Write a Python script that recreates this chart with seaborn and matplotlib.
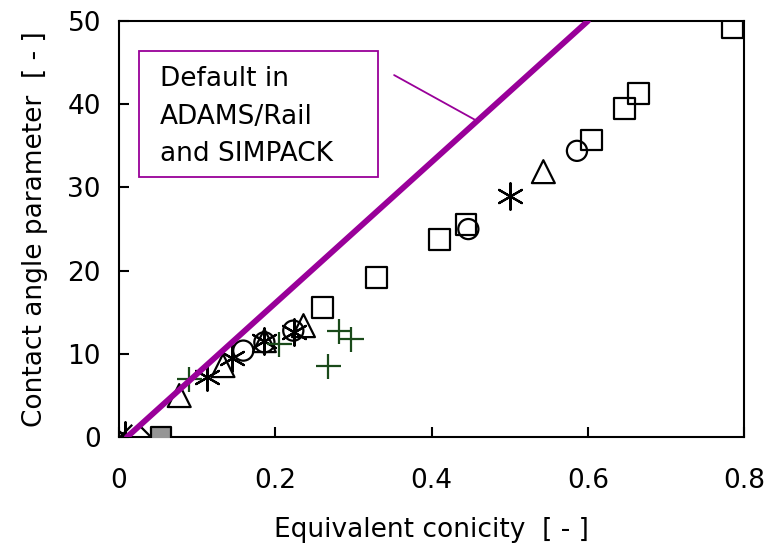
import matplotlib
matplotlib.use("Agg")
import matplotlib.pyplot as plt
from matplotlib.patches import Rectangle
import seaborn as sns
import pandas as pd

sns.set_theme(style="white")
plt.rcParams['font.family'] = ['DejaVu Sans']
plt.rcParams['text.color'] = 'black'
plt.rcParams['axes.labelcolor'] = 'black'
plt.rcParams['xtick.color'] = 'black'
plt.rcParams['ytick.color'] = 'black'

# ---- data ----
sq_x = [0.785, 0.665, 0.647, 0.605, 0.444, 0.410, 0.330, 0.260]
sq_y = [49.2, 41.3, 39.5, 35.7, 25.6, 23.7, 19.2, 15.6]
circ_x = [0.586, 0.447, 0.223, 0.186, 0.159]
circ_y = [34.4, 25.0, 12.8, 11.4, 10.4]
tri_x = [0.543, 0.236, 0.186, 0.133, 0.077]
tri_y = [31.9, 13.4, 11.6, 8.6, 5.0]
ast_x = [0.500, 0.224, 0.186, 0.145, 0.113, 0.008]
ast_y = [29.0, 12.6, 11.6, 9.5, 7.2, 0.3]
plus_x = [0.281, 0.297, 0.267, 0.205, 0.090]
plus_y = [12.7, 11.8, 8.6, 11.2, 7.0]
xmark_x = [0.004]
xmark_y = [0.4]
dia_x = [0.026]
dia_y = [0.0]
gray_x = [0.054]
gray_y = [0.0]
line_x = [0.01, 0.60]
line_y = [0.0, 50.0]

xticks = [0, 0.2, 0.4, 0.6, 0.8]
xticklabels = ["0", "0.2", "0.4", "0.6", "0.8"]
yticks = [0, 10, 20, 30, 40, 50]
yticklabels = ["0", "10", "20", "30", "40", "50"]

purple = "#990099"
green = "#1a4a1a"
FS = 19

fig = plt.figure(figsize=(7.68, 5.52), dpi=100)
ax = fig.add_axes([0.155, 0.208, 0.814, 0.754])

ew = 1.6
def df(x, y):
    return pd.DataFrame({"x": x, "y": y})

sns.scatterplot(data=df(sq_x, sq_y), x="x", y="y", marker="s", s=15**2,
                facecolors="none", edgecolor="black", linewidth=ew, ax=ax, zorder=3)
sns.scatterplot(data=df(circ_x, circ_y), x="x", y="y", marker="o", s=14.5**2,
                facecolors="none", edgecolor="black", linewidth=ew, ax=ax, zorder=3)
sns.scatterplot(data=df(tri_x, tri_y), x="x", y="y", marker="^", s=16.5**2,
                facecolors="none", edgecolor="black", linewidth=ew, ax=ax, zorder=3)
sns.scatterplot(data=df(ast_x, ast_y), x="x", y="y", marker=(6, 2, 0), s=19**2,
                color="black", linewidth=ew, ax=ax, zorder=3)
sns.scatterplot(data=df(plus_x, plus_y), x="x", y="y", marker="+", s=18**2,
                color=green, linewidth=ew, ax=ax, zorder=3)
sns.scatterplot(data=df(xmark_x, xmark_y), x="x", y="y", marker="x", s=14**2,
                color="black", linewidth=ew, ax=ax, zorder=3)
sns.scatterplot(data=df(dia_x, dia_y), x="x", y="y", marker="D", s=12**2,
                facecolors="none", edgecolor="black", linewidth=ew, ax=ax, zorder=3)
sns.scatterplot(data=df(gray_x, gray_y), x="x", y="y", marker="s", s=15**2,
                color="#969696", edgecolor="black", linewidth=ew, ax=ax, zorder=4)

sns.lineplot(data=df(line_x, line_y), x="x", y="y", color=purple, linewidth=4.2,
             ax=ax, zorder=5)

# annotation box + connector
ax.add_patch(Rectangle((0.0256, 31.2), 0.3064, 15.2, transform=ax.transData,
                       fc="white", ec=purple, lw=1.3, zorder=6))
ax.text(0.0526, 44.6, "Default in\nADAMS/Rail\nand SIMPACK", ha="left", va="top",
        fontsize=FS, linespacing=1.58, zorder=7)
ax.annotate("", xy=(0.458, 38.0), xycoords="data", xytext=(0.352, 43.5),
            textcoords="data",
            arrowprops=dict(arrowstyle="-", color=purple, lw=1.3,
                            shrinkA=0, shrinkB=0), zorder=6)

ax.set_xlim(0, 0.8)
ax.set_ylim(0, 50)
ax.set_xticks(xticks)
ax.set_xticklabels(xticklabels)
ax.set_yticks(yticks)
ax.set_yticklabels(yticklabels)
ax.tick_params(axis="both", direction="in", length=7, width=1.5, labelsize=FS,
               colors="black", bottom=True, left=True, top=False, right=False)
ax.tick_params(axis="x", pad=22)
ax.tick_params(axis="y", pad=13)
for sp in ax.spines.values():
    sp.set_visible(True)
    sp.set_color("black")
    sp.set_linewidth(1.5)
ax.set_xlabel("Equivalent conicity  [ - ]", fontsize=FS, labelpad=17)
ax.set_ylabel("Contact angle parameter  [ - ]", fontsize=FS, labelpad=14)
ax.grid(False)

fig.savefig("out.png", dpi=100)
